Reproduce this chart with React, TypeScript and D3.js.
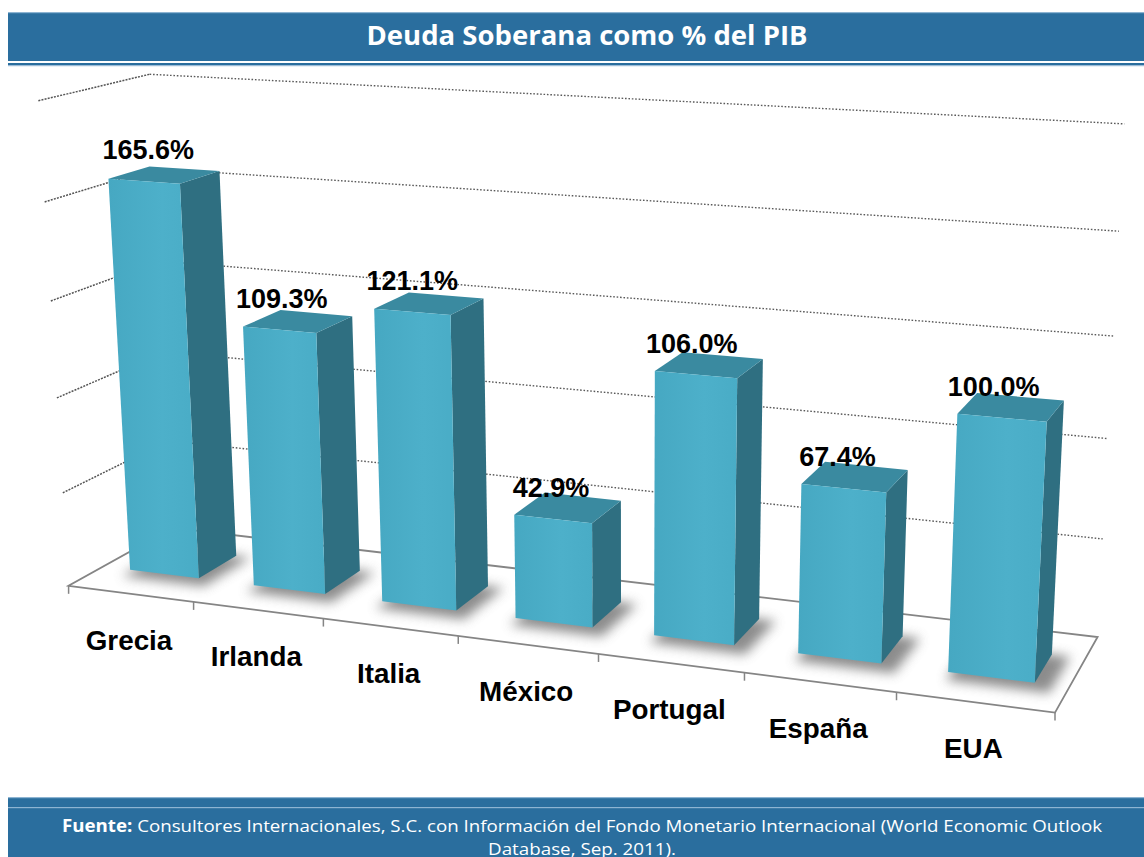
import React from "react";
import * as d3 from "d3";

const categories = ["Grecia", "Irlanda", "Italia", "México", "Portugal", "España", "EUA"];
const values = [165.6, 109.3, 121.1, 42.9, 106.0, 67.4, 100.0];
const valueLabels = ["165.6%", "109.3%", "121.1%", "42.9%", "106.0%", "67.4%", "100.0%"];
const gridTicks = [40, 80, 120, 160, 200];
const title = "Deuda Soberana como % del PIB";
const sourceBold = "Fuente:";
const sourceRest = " Consultores Internacionales, S.C. con Información del Fondo Monetario Internacional (World Economic Outlook";
const sourceLine2 = "Database, Sep. 2011).";

// calibration of the 3D box: [category pos, value, depth(0 front..1 back), px, py]
const calib: number[][] = [
  [0, 200, 0, 40, 101], [0, 160, 0, 45, 202], [0, 120, 0, 52, 300], [0, 80, 0, 57, 398], [0, 40, 0, 62, 493], [0, 0, 0, 68, 585],
  [0, 200, 1, 147, 73], [0, 0, 1, 175, 529],
  [7, 200, 1, 1125, 125], [7, 160, 1, 1118, 232], [7, 120, 1, 1112, 337], [7, 80, 1, 1110, 438], [7, 40, 1, 1105, 537], [7, 0, 1, 1095, 637],
  [1, 0, 0, 193, 602], [2, 0, 0, 323, 619], [3, 0, 0, 458, 637], [4, 0, 0, 598, 655], [5, 0, 0, 743, 673], [6, 0, 0, 895, 691], [7, 0, 0, 1058, 712],
];

const xS = d3.scaleLinear().domain([0, categories.length]).range([0, 1]);
const yS = d3.scaleLinear().domain([0, 200]).range([0, 1]);

function solve(A: number[][], b: number[]): number[] {
  const n = b.length;
  const M = A.map((r, i) => [...r, b[i]]);
  for (let c = 0; c < n; c++) {
    let p = c;
    for (let r = c + 1; r < n; r++) if (Math.abs(M[r][c]) > Math.abs(M[p][c])) p = r;
    [M[c], M[p]] = [M[p], M[c]];
    for (let r = 0; r < n; r++) {
      if (r === c) continue;
      const f = M[r][c] / M[c][c];
      for (let k = c; k <= n; k++) M[r][k] -= f * M[c][k];
    }
  }
  return M.map((r, i) => r[n] / r[i]);
}

function fitCamera(): number[] {
  const rows: number[][] = [];
  const rhs: number[] = [];
  calib.forEach(([c, v, z, u, w]) => {
    const X = xS(c), Y = yS(v), Z = z;
    const U = u / 1000, V = w / 1000;
    rows.push([X, Y, Z, 1, 0, 0, 0, 0, -U * X, -U * Y, -U * Z]); rhs.push(U);
    rows.push([0, 0, 0, 0, X, Y, Z, 1, -V * X, -V * Y, -V * Z]); rhs.push(V);
  });
  const N: number[][] = Array.from({ length: 11 }, () => new Array(11).fill(0));
  const r: number[] = new Array(11).fill(0);
  rows.forEach((row, k) => {
    for (let i = 0; i < 11; i++) {
      r[i] += row[i] * rhs[k];
      for (let j = 0; j < 11; j++) N[i][j] += row[i] * row[j];
    }
  });
  return solve(N, r);
}

const P = fitCamera();
function proj(c: number, v: number, z: number): [number, number] {
  const X = xS(c), Y = yS(v), Z = z;
  const w = P[8] * X + P[9] * Y + P[10] * Z + 1;
  return [((P[0] * X + P[1] * Y + P[2] * Z + P[3]) / w) * 1000, ((P[4] * X + P[5] * Y + P[6] * Z + P[7]) / w) * 1000];
}
const poly = (pts: [number, number, number][]) => pts.map((p) => proj(p[0], p[1], p[2]).join(",")).join(" ");

const BW = 0.56;
const Z0 = 0.32;
const Z1 = 0.7;
const N = categories.length;

export default function App() {
  const W = 1144, H = 857;
  const line = d3.line<[number, number]>();
  return (
    <svg width={W} height={H} style={{ position: "absolute", left: 0, top: 0, background: "#fff" }} fontFamily="'Liberation Sans', Arial, sans-serif">
      <defs>
        <filter id="shadowBlur" x="-50%" y="-50%" width="200%" height="200%">
          <feGaussianBlur stdDeviation="6" />
        </filter>
        <linearGradient id="frontGrad" x1="0" x2="1" y1="0" y2="0">
          <stop offset="0" stopColor="#46a8c2" />
          <stop offset="0.6" stopColor="#4db0ca" />
          <stop offset="1" stopColor="#49acc6" />
        </linearGradient>
      </defs>
      <rect width={W} height={H} fill="#fff" />
      {/* header */}
      <rect x={8} y={12} width={W - 8} height={49} fill="#2a6e9e" />
      <rect x={8} y={12} width={W - 8} height={1.2} fill="#8db4d2" />
      <rect x={8} y={63} width={W - 8} height={2.2} fill="#2a6e9e" />
      <rect x={8} y={65.2} width={W - 8} height={1} fill="#8fb4d3" />
      <text x={587} y={45} textAnchor="middle" fill="#fff" fontFamily="'Open Sans', sans-serif" fontWeight="bold" fontSize={26} textLength={441} lengthAdjust="spacingAndGlyphs">{title}</text>

      {/* walls gridlines */}
      {gridTicks.map((t) => (
        <g key={"g" + t}>
          <path d={line([proj(0, t, 0), proj(0, t, 1)]) || ""} stroke="#555" strokeWidth={1.5} strokeDasharray="2 1.2" fill="none" />
          <path d={line([proj(0, t, 1), proj(N, t, 1)]) || ""} stroke="#5a5a5a" strokeWidth={1.4} strokeDasharray="1.6 1.8" fill="none" />
        </g>
      ))}
      {/* floor */}
      <polygon points={poly([[0, 0, 0], [N, 0, 0], [N, 0, 1], [0, 0, 1]])} fill="#fff" stroke="#858585" strokeWidth={1.8} />
      {d3.range(0, N + 1).map((i) => {
        const [x, y] = proj(i, 0, 0);
        return <line key={"t" + i} x1={x} y1={y} x2={x} y2={y + 8} stroke="#858585" strokeWidth={1.5} />;
      })}
      {/* shadows */}
      {values.map((v, i) => {
        const x0 = i + 0.5 - BW / 2, x1 = i + 0.5 + BW / 2;
        return (
          <polygon key={"s" + i} filter="url(#shadowBlur)" fill="#707070" opacity={0.8}
            points={poly([[x0 + 0.02, 0, Z0 - 0.1], [x1 + 0.12, 0, Z0 - 0.1], [x1 + 0.12, 0, Z1], [x0 + 0.02, 0, Z1]])} />
        );
      })}
      {/* bars */}
      {values.map((v, i) => {
        const x0 = i + 0.5 - BW / 2, x1 = i + 0.5 + BW / 2;
        return (
          <g key={"b" + i}>
            <polygon points={poly([[x1, 0, Z0], [x1, 0, Z1], [x1, v, Z1], [x1, v, Z0]])} fill="#2f6f81" />
            <polygon points={poly([[x0, v, Z0], [x1, v, Z0], [x1, v, Z1], [x0, v, Z1]])} fill="#3a8aa0" />
            <polygon points={poly([[x0, 0, Z0], [x1, 0, Z0], [x1, v, Z0], [x0, v, Z0]])} fill="url(#frontGrad)" />
          </g>
        );
      })}
      {/* value labels */}
      {values.map((v, i) => {
        const [x, y] = proj(i + 0.5, v, Z0);
        const dx = -1.9 - 2.07 * (i - 3);
        return <text key={"v" + i} x={x + dx} y={y - 22} textAnchor="middle" fontWeight="bold" fontSize={27} fill="#000">{valueLabels[i]}</text>;
      })}
      {/* category labels */}
      {categories.map((c, i) => {
        const [x, y] = proj(i + 0.5, 0, 0);
        return <text key={"c" + i} x={x - 1.5} y={y + 56} textAnchor="middle" fontWeight="bold" fontSize={27.8} fill="#000">{c}</text>;
      })}

      {/* footer */}
      <rect x={8} y={797} width={W - 8} height={60} fill="#2a6e9e" />
      <rect x={8} y={797} width={W - 8} height={1.2} fill="#8db4d2" />
      <rect x={8} y={807} width={W - 8} height={1.2} fill="#8db4d2" />
      <text x={582} y={832} textAnchor="middle" fill="#fff" fontFamily="'Open Sans', sans-serif" fontSize={17} textLength={1040} lengthAdjust="spacingAndGlyphs">
        <tspan fontWeight="bold">{sourceBold}</tspan>
        <tspan>{sourceRest}</tspan>
      </text>
      <text x={582} y={855} textAnchor="middle" fill="#fff" fontFamily="'Open Sans', sans-serif" fontSize={17} textLength={188} lengthAdjust="spacingAndGlyphs">{sourceLine2}</text>
    </svg>
  );
}
